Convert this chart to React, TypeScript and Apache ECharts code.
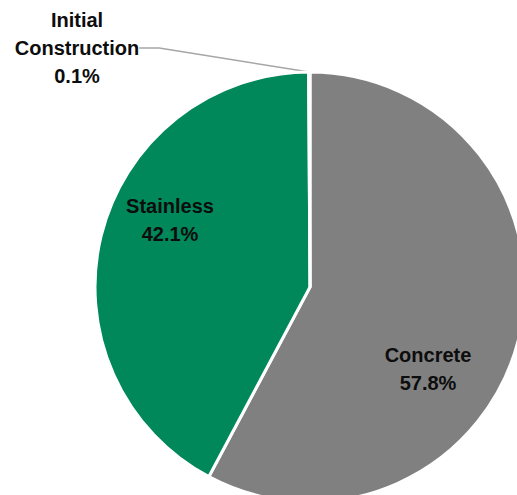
import React, { useEffect, useRef } from "react";
import * as echarts from "echarts";

const categories = ["Concrete", "Stainless", "Initial Construction"];
const shares = [57.8, 42.1, 0.1];
const colors = ["#808080", "#00885A", "#4472C4"];

const labelSpots: { x: number; y: number }[] = [
  { x: 428, y: 369 },
  { x: 170, y: 220 },
  { x: 77, y: 48 },
];

export default function App() {
  const ref = useRef<HTMLDivElement>(null);
  useEffect(() => {
    if (!ref.current) return;
    const chart = echarts.init(ref.current, undefined, { renderer: "svg" });
    chart.setOption({
      animation: false,
      backgroundColor: "#ffffff",
      series: [
        {
          type: "pie",
          center: [310, 287],
          radius: 215,
          startAngle: 90,
          clockwise: true,
          percentPrecision: 1,
          avoidLabelOverlap: false,
          itemStyle: { borderColor: "#ffffff", borderWidth: 3 },
          label: {
            show: true,
            position: "inside",
            formatter: (p: any) => p.name.replace(" ", "\n") + "\n" + p.percent.toFixed(1) + "%",
            fontFamily: "'Liberation Sans', Arial, sans-serif",
            fontWeight: "bold",
            fontSize: 20,
            lineHeight: 28,
            color: "#0d0d0d",
            align: "center",
          },
          labelLine: { show: false },
          labelLayout: (params: any) => {
            const s = labelSpots[params.dataIndex];
            return { x: s.x, y: s.y, align: "center", verticalAlign: "middle" };
          },
          data: categories.map((name, i) => ({
            name,
            value: shares[i],
            itemStyle: { color: colors[i] },
            ...(i === 2
              ? {
                  label: { position: "outside" },
                  labelLine: {
                    show: true,
                    length: 5,
                    length2: 20,
                    smooth: false,
                    lineStyle: { color: "#a6a6a6", width: 1.5 },
                  },
                }
              : {}),
          })),
        },
      ],
    });
    return () => chart.dispose();
  }, []);
  return (
    <div
      ref={ref}
      style={{ position: "fixed", left: 0, top: 0, width: 517, height: 495 }}
    />
  );
}
